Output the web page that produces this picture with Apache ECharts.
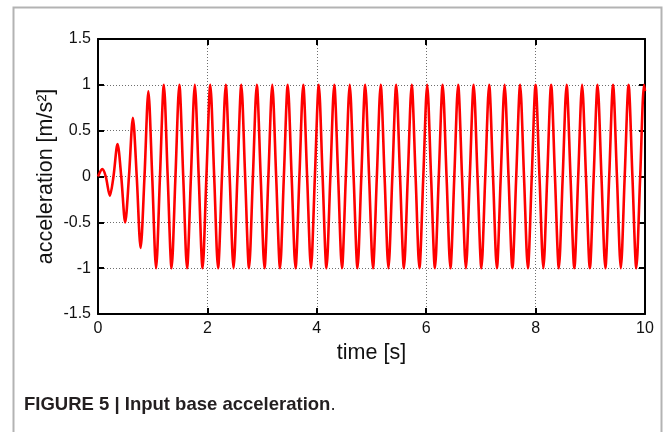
<!DOCTYPE html>
<html>
<head>
<meta charset="utf-8">
<script src="https://cdn.jsdelivr.net/npm/echarts@6/dist/echarts.min.js"></script>
<style>
html,body{margin:0;padding:0;background:#fff;}
#c{width:665px;height:432px;}
</style>
</head>
<body>
<div id="c"></div>
<script>
// x tick values
var xTicks = [0, 2, 4, 6, 8, 10];
var yTicks = [-1.5, -1, -0.5, 0, 0.5, 1, 1.5];

// zero crossings [s]
var zeroTimes = [0, 0.142, 0.283, 0.425, 0.566, 0.708, 0.850, 0.991, 1.133, 1.274,
  1.416, 1.558, 1.699, 1.841, 1.982, 2.124, 2.266, 2.407, 2.549, 2.690,
  2.832, 2.974, 3.115, 3.257, 3.398, 3.540, 3.682, 3.823, 3.965, 4.106,
  4.248, 4.390, 4.531, 4.673, 4.814, 4.956, 5.098, 5.239, 5.381, 5.522,
  5.664, 5.806, 5.947, 6.089, 6.230, 6.372, 6.514, 6.655, 6.797, 6.938,
  7.080, 7.222, 7.363, 7.505, 7.646, 7.788, 7.930, 8.071, 8.213, 8.354,
  8.496, 8.638, 8.779, 8.921, 9.062, 9.204, 9.346, 9.487, 9.629, 9.770,
  9.912];

// peaks / troughs [s]
var peakTimes = [0.078, 0.216, 0.357, 0.497, 0.638, 0.779, 0.921, 1.062, 1.204, 1.345,
  1.487, 1.628, 1.770, 1.912, 2.053, 2.195, 2.336, 2.478, 2.620, 2.761,
  2.903, 3.044, 3.186, 3.328, 3.469, 3.611, 3.752, 3.894, 4.036, 4.177,
  4.319, 4.460, 4.602, 4.744, 4.885, 5.027, 5.168, 5.310, 5.452, 5.593,
  5.735, 5.876, 6.018, 6.160, 6.301, 6.443, 6.584, 6.726, 6.868, 7.009,
  7.151, 7.292, 7.434, 7.576, 7.717, 7.859, 8.000, 8.142, 8.284, 8.425,
  8.567, 8.708, 8.850, 8.992, 9.133, 9.275, 9.416, 9.558, 9.700, 9.841,
  9.983];
// acceleration at those peaks / troughs [m/s^2]
var peakValues = [0.08, -0.21, 0.355, -0.50, 0.64, -0.78, 0.93, -1, 1, -1,
  1, -1, 1, -1, 1, -1, 1, -1, 1, -1,
  1, -1, 1, -1, 1, -1, 1, -1, 1, -1,
  1, -1, 1, -1, 1, -1, 1, -1, 1, -1,
  1, -1, 1, -1, 1, -1, 1, -1, 1, -1,
  1, -1, 1, -1, 1, -1, 1, -1, 1, -1,
  1, -1, 1, -1, 1, -1, 1, -1, 1, -1,
  1];
// last sample
var endTime = 10;
var endValue = 0.93;

var pts = [];
zeroTimes.forEach(function (t) { pts.push([t, 0]); });
peakTimes.forEach(function (t, i) { pts.push([t, peakValues[i]]); });
pts.push([endTime, endValue]);
pts.sort(function (a, b) { return a[0] - b[0]; });

var FONT = 'Liberation Sans, Arial, Helvetica, sans-serif';
var chart = echarts.init(document.getElementById('c'), null, {renderer: 'canvas'});

var gridCol = '#6e6e6e';
var baseX = {
  type: 'value', min: xTicks[0], max: xTicks[xTicks.length - 1], interval: 2,
  axisLine: {show: true, onZero: false, lineStyle: {color: '#000', width: 2}},
  axisTick: {show: true, inside: true, length: 6, lineStyle: {color: '#000', width: 2}}
};
var baseY = {
  type: 'value', min: yTicks[0], max: yTicks[yTicks.length - 1], interval: 0.5,
  axisLine: {show: true, onZero: false, lineStyle: {color: '#000', width: 2}},
  axisTick: {show: true, inside: true, length: 6, lineStyle: {color: '#000', width: 2}}
};

chart.setOption({
  animation: false,
  backgroundColor: '#fff',
  grid: {left: 98, right: 20, top: 39, bottom: 118, containLabel: false},
  xAxis: [
    Object.assign({}, baseX, {
      position: 'bottom',
      name: 'time [s]', nameLocation: 'middle', nameGap: 28,
      nameMoveOverlap: false,
      nameTextStyle: {fontFamily: FONT, fontSize: 21.5, color: '#111'},
      axisLabel: {fontFamily: FONT, fontSize: 16, color: '#111', margin: 7},
      splitLine: {show: true, lineStyle: {color: gridCol, width: 1, type: [1, 2]}}
    }),
    Object.assign({}, baseX, {
      position: 'top',
      axisLabel: {show: false},
      splitLine: {show: false}
    })
  ],
  yAxis: [
    Object.assign({}, baseY, {
      position: 'left',
      name: 'acceleration [m/s²]', nameLocation: 'middle', nameGap: 41,
      nameMoveOverlap: false,
      nameTextStyle: {fontFamily: FONT, fontSize: 21.5, color: '#111'},
      axisLabel: {fontFamily: FONT, fontSize: 16, color: '#111', margin: 7},
      splitLine: {show: true, lineStyle: {color: gridCol, width: 1, type: [1, 2]}}
    }),
    Object.assign({}, baseY, {
      position: 'right',
      axisLabel: {show: false},
      splitLine: {show: false}
    })
  ],
  series: [{
    type: 'line',
    xAxisIndex: 0, yAxisIndex: 0,
    data: pts,
    showSymbol: false,
    smooth: 0.3,
    clip: true,
    lineStyle: {color: '#ff0000', width: 2.6},
    z: 3
  }],
  graphic: [
    {
      type: 'rect', silent: true, z: -1,
      shape: {x: 13.5, y: 7.5, width: 648, height: 440},
      style: {fill: null, stroke: '#b3b3b3', lineWidth: 2}
    },
    {
      type: 'text', left: 24, top: 395,
      style: {
        text: '{b|FIGURE 5 | Input base acceleration}{n|.}',
        rich: {
          b: {fontFamily: FONT, fontWeight: 'bold', fontSize: 18.5, fill: '#231f20'},
          n: {fontFamily: FONT, fontSize: 18.5, fill: '#231f20'}
        }
      }
    }
  ]
});
</script>
</body>
</html>
